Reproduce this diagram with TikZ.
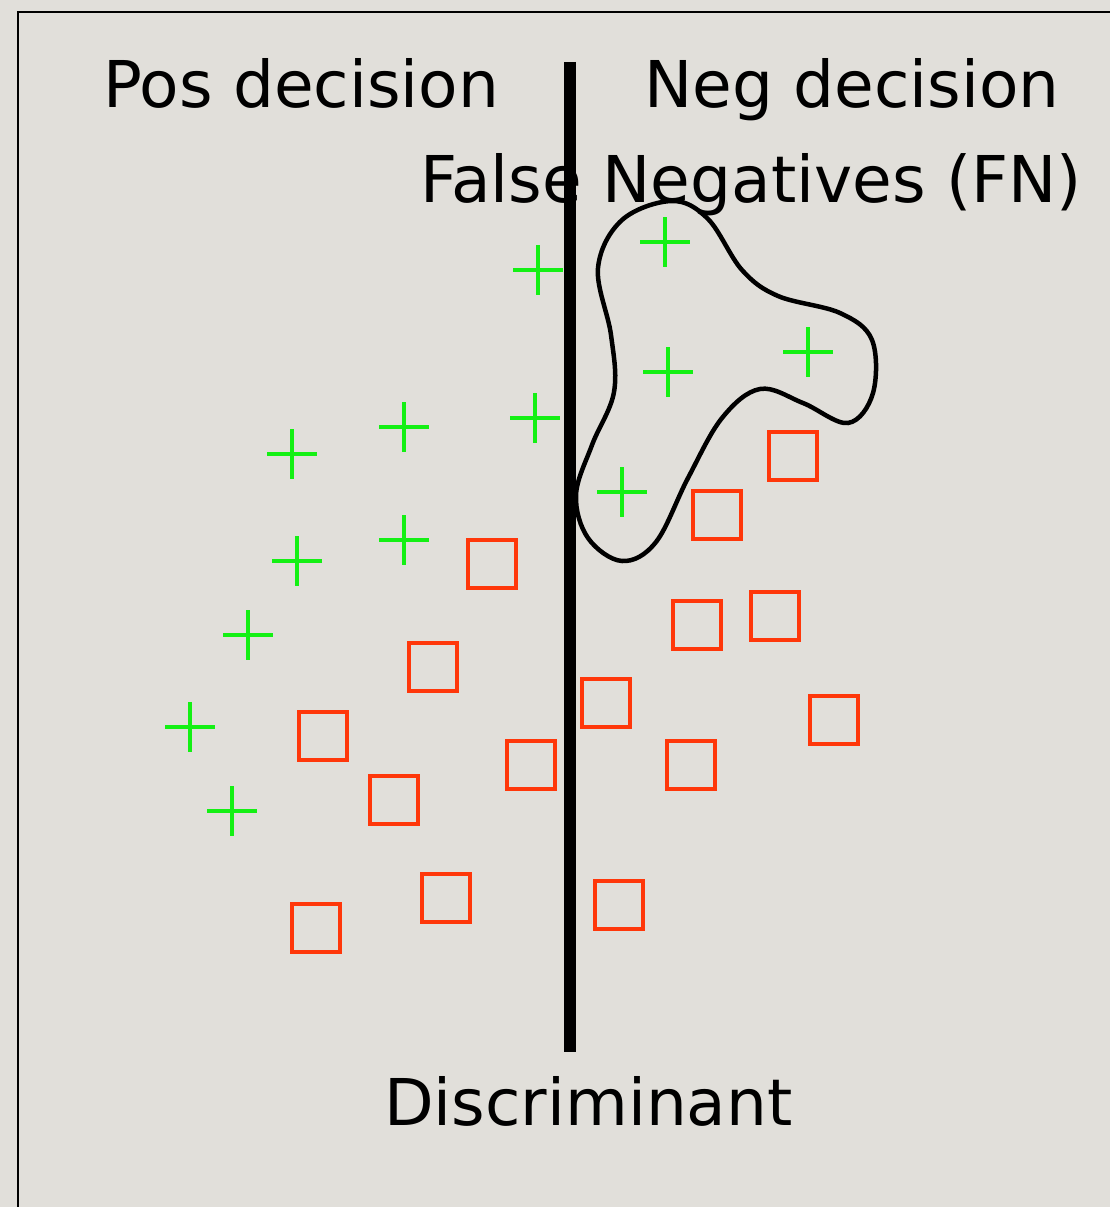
\documentclass[tikz,border=0pt]{standalone}
\usepackage{fontspec}
\setmainfont{DejaVu Sans}
\definecolor{bg}{RGB}{225,223,218}
\definecolor{plusgreen}{RGB}{20,240,20}
\definecolor{sqred}{RGB}{255,55,10}
\begin{document}
\begin{tikzpicture}[x=1pt,y=-1pt,
  lbl/.style={anchor=base west,inner sep=0pt,font=\fontsize{64.5}{76}\selectfont},
  plusmark/.style={minimum size=50pt,inner sep=0pt,
    path picture={\draw[plusgreen,line width=4pt]
      (path picture bounding box.north) -- (path picture bounding box.south)
      (path picture bounding box.west) -- (path picture bounding box.east);}},
  sqmark/.style={draw=sqred,line width=4pt,minimum size=48pt,inner sep=0pt}]
\useasboundingbox (0,0) rectangle (1110,1207);
\fill[bg] (0,0) rectangle (1110,1207);
\begin{scope}
\clip (0,0) rectangle (1110,1207);
\draw[line width=2.5pt] (18,12) rectangle (1130,1230);
\end{scope}
% labels
\node[lbl] (pos) at (103,107) {Pos decision};
\node[lbl] (neg) at (644,107) {Neg decision};
\node[lbl] (fn) at (420,202) {False Negatives (FN)};
\node[lbl] (disc) at (384,1125) {Discriminant};
% discriminant line
\coordinate (ltop) at (570,62);
\coordinate (lbot) at (570,1052);
\draw[line width=12pt] (ltop) -- (lbot);
% blob
\draw[line width=4.5pt] plot[smooth cycle,tension=0.6] coordinates {
 (672,201) (622,220) (598,268) (611,335) (614,392) (592,445) (576,495)
 (588,538) (622,561) (656,542) (688,478) (722,418) (760,389) (803,403)
 (848,423) (873,393) (872,340) (840,313) (778,296) (742,270) (708,219)};
% plus marks
\foreach \i/\x/\y in {1/538/270,2/665/242,3/808/352,4/668/372,5/535/418,6/404/427,
  7/292/454,8/622/492,9/404/540,10/297/561,11/248/635,12/190/727,13/232/811}
  \node[plusmark] (p\i) at (\x,\y) {};
% squares
\foreach \i/\x/\y in {1/793/456,2/717/515,3/492/564,4/697/625,5/775/616,6/433/667,
  7/606/703,8/323/736,9/834/720,10/531/765,11/691/765,12/394/800,13/446/898,
  14/619/905,15/316/928}
  \node[sqmark] (s\i) at (\x,\y) {};
\end{tikzpicture}
\end{document}
